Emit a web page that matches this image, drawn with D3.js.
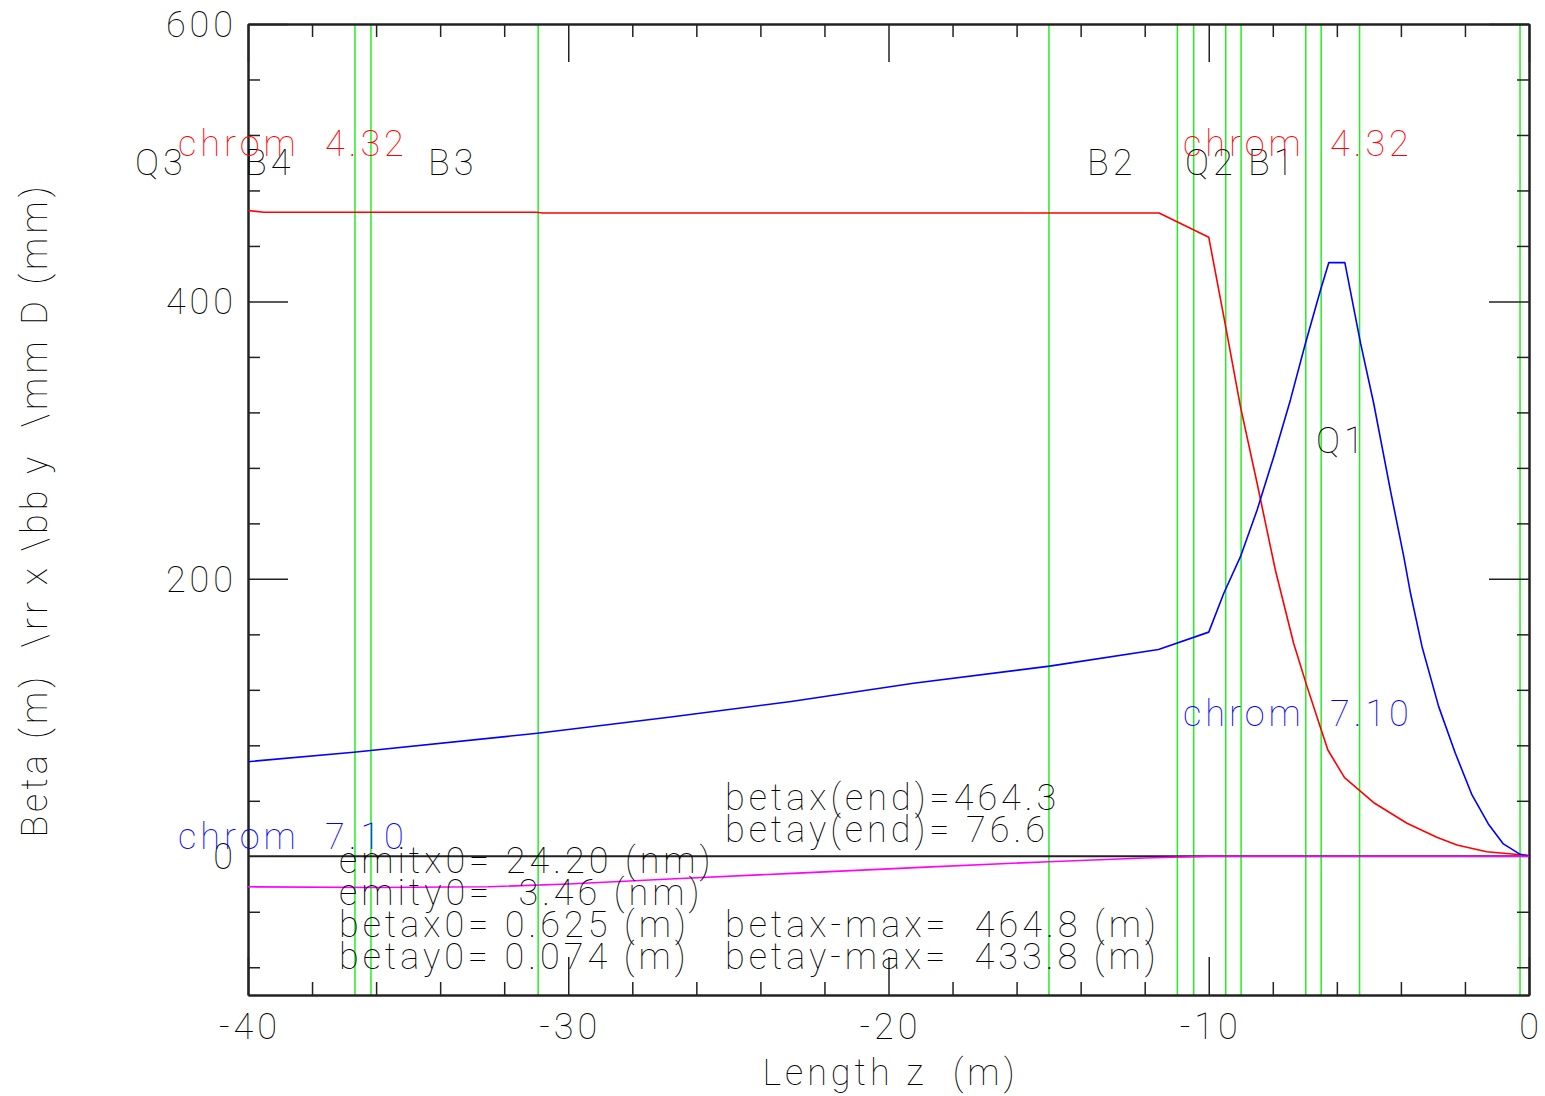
<!DOCTYPE html>
<html>
<head>
<meta charset="utf-8">
<script src="https://cdn.jsdelivr.net/npm/d3@7"></script>
<style>
  html, body { margin: 0; padding: 0; background: #fff; }
  svg text { font-family: Roboto, Lato, "DejaVu Sans", sans-serif; font-weight: 100; white-space: pre; letter-spacing: 4px; }
</style>
</head>
<body>
<svg id="chart" width="1545" height="1096"></svg>
<script>
// ---------- data ----------
const xDomain = [-40, 0];
const yDomain = [-100, 600];
const xMajorTicks = [-40, -30, -20, -10, 0];
const xTickLabels = ["-40", "-30", "-20", "-10", "0"];
const yMajorTicks = [0, 200, 400, 600];
const yTickLabels = ["0", "200", "400", "600"];

// element boundaries (green markers)
const elementZ = [-36.66, -36.16, -30.94, -14.99, -10.98, -10.47, -9.47, -8.99, -6.97, -6.49, -5.29, -0.28];

// red curve
const redZ = [-40, -39.5, -31.0, -30.8, -11.55, -10.0, -9.53, -9.01, -8.49, -7.92, -7.35, -6.93, -6.52, -6.28, -5.76, -4.82, -3.81, -2.88, -2.25, -1.32, 0];
const redV = [465.6, 464.3, 464.3, 463.8, 463.8, 446.3, 389.1, 324.2, 268.9, 206.4, 153.6, 122.3, 93.4, 76.6, 56.7, 38.2, 23.8, 13.7, 8.1, 3.3, 0.6];

// blue curve
const blueZ = [-40, -36.7, -30.96, -26.86, -23.04, -19.22, -14.97, -11.57, -10.0, -9.53, -9.01, -8.49, -7.97, -7.45, -6.98, -6.51, -6.25, -5.75, -5.26, -4.85, -4.33, -3.91, -3.70, -3.34, -2.82, -2.30, -1.78, -1.27, -0.80, -0.30, 0];
const blueV = [68.2, 75.0, 88.7, 100.2, 111.6, 124.7, 137.1, 149.1, 161.6, 189.6, 216, 249.7, 288.1, 329, 369.9, 408.3, 428, 428, 369.9, 326.6, 264.1, 216, 189.6, 151.1, 107.9, 74.3, 44.2, 23.3, 8.9, 1.7, 0.1];

// magenta curve
const magZ = [-40, -36, -32.5, -30, -26.5, -23, -19, -15, -12, -10.5, -10, 0];
const magV = [-22, -22.5, -22, -20, -16, -12.3, -8, -3.9, -1.2, -0.3, 0, 0];

// annotation texts
const elementLabels = ["Q3", "B4", "B3", "B2", "Q2", "B1", "Q1"];
const chromRedLabel = "chrom  4.32";
const chromBlueLabel = "chrom  7.10";
const endLines = ["betax(end)=464.3", "betay(end)= 76.6"];
const initLines = ["emitx0= 24.20 (nm)", "emity0=  3.46 (nm)", "betax0= 0.625 (m)", "betay0= 0.074 (m)"];
const maxLines = ["betax-max=  464.8 (m)", "betay-max=  433.8 (m)"];
const xTitle = "Length z  (m)";
const yTitle = "Beta (m)  \\rr x \\bb y  \\mm D (mm)";

// ---------- layout ----------
const L = 248, R = 1529, T = 24, B = 995;
const FS = 36;
const svg = d3.select("#chart");
const x = d3.scaleLinear().domain(xDomain).range([L, R]);
const y = d3.scaleLinear().domain(yDomain).range([B, T]);

const xMinor = d3.range(-40, 0.001, 2).filter(v => !xMajorTicks.includes(v));
const yMinor = d3.range(-80, 600.001, 40).filter(v => !yMajorTicks.includes(v));

const axisColor = "#222";

// green element lines
svg.append("g").selectAll("line").data(elementZ).join("line")
  .attr("x1", d => x(d)).attr("x2", d => x(d))
  .attr("y1", T).attr("y2", B)
  .attr("stroke", "#22ee22").attr("stroke-width", 1.5);

// zero line
svg.append("line").attr("x1", L).attr("x2", R).attr("y1", y(0)).attr("y2", y(0))
  .attr("stroke", axisColor).attr("stroke-width", 2);

// axes (ticks inward)
function addAxis(gen, transform) {
  const g = svg.append("g").attr("transform", transform).call(gen);
  g.selectAll("path.domain").attr("stroke", axisColor).attr("stroke-width", 2);
  g.selectAll(".tick line").attr("stroke", axisColor).attr("stroke-width", 1.5);
  g.selectAll(".tick text").remove();
  return g;
}
addAxis(d3.axisBottom(x).tickValues(xMinor).tickSize(-13).tickSizeOuter(0), `translate(0,${B})`);
addAxis(d3.axisBottom(x).tickValues(xMajorTicks).tickSize(-38).tickSizeOuter(0), `translate(0,${B})`);
addAxis(d3.axisTop(x).tickValues(xMinor).tickSize(-13).tickSizeOuter(0), `translate(0,${T})`);
addAxis(d3.axisTop(x).tickValues(xMajorTicks).tickSize(-38).tickSizeOuter(0), `translate(0,${T})`);
addAxis(d3.axisLeft(y).tickValues(yMinor).tickSize(-12).tickSizeOuter(0), `translate(${L},0)`);
addAxis(d3.axisLeft(y).tickValues(yMajorTicks.filter(v => v !== 0)).tickSize(-40).tickSizeOuter(0), `translate(${L},0)`);
addAxis(d3.axisRight(y).tickValues(yMinor).tickSize(-12).tickSizeOuter(0), `translate(${R},0)`);
addAxis(d3.axisRight(y).tickValues(yMajorTicks.filter(v => v !== 0)).tickSize(-40).tickSizeOuter(0), `translate(${R},0)`);

// curves
const line = d3.line().x(d => x(d[0])).y(d => y(d[1]));
function drawCurve(zs, vs, color) {
  svg.append("path").datum(zs.map((z, i) => [z, vs[i]]))
    .attr("d", line).attr("fill", "none").attr("stroke", color)
    .attr("stroke-width", 1.6).attr("stroke-linejoin", "round");
}
drawCurve(redZ, redV, "#ff0000");
drawCurve(blueZ, blueV, "#0000ff");
drawCurve(magZ, magV, "#ff00ff");

// tick labels
svg.append("g").selectAll("text").data(xMajorTicks).join("text")
  .attr("x", d => x(d) + 2).attr("y", 1039).attr("text-anchor", "middle")
  .attr("font-size", FS).attr("fill", "#000").text((d, i) => xTickLabels[i]);
svg.append("g").selectAll("text").data(yMajorTicks).join("text")
  .attr("x", 237).attr("y", d => y(d) + 13).attr("text-anchor", "end")
  .attr("font-size", FS).attr("fill", "#000").text((d, i) => yTickLabels[i]);

// titles
svg.append("text").attr("x", x(-20) + 2).attr("y", 1085).attr("text-anchor", "middle")
  .attr("font-size", FS).attr("fill", "#000").text(xTitle);
svg.append("text").attr("transform", `translate(47,${510}) rotate(-90)`).attr("text-anchor", "middle")
  .attr("font-size", FS).attr("fill", "#000").text(yTitle);

// annotations
function txt(s, px, py, color) {
  svg.append("text").attr("x", px).attr("y", py).attr("font-size", FS)
    .attr("fill", color).text(s);
}
const labelPos = [[135, 175], [245, 175], [428, 175], [1087, 175], [1185, 175], [1248, 175], [1316, 453]];
elementLabels.forEach((s, i) => txt(s, labelPos[i][0], labelPos[i][1], "#000"));
txt(chromRedLabel, 178, 156, "#ff0000");
txt(chromRedLabel, 1183, 156, "#ff0000");
txt(chromBlueLabel, 1183, 726, "#0000ff");
txt(chromBlueLabel, 178, 849, "#0000ff");
txt(endLines[0], 725, 810, "#000");
txt(endLines[1], 725, 842, "#000");
txt(initLines[0], 339, 873, "#000");
txt(initLines[1], 339, 905, "#000");
txt(initLines[2], 339, 937, "#000");
txt(initLines[3], 339, 969, "#000");
txt(maxLines[0], 725, 937, "#000");
txt(maxLines[1], 725, 969, "#000");
</script>
</body>
</html>
